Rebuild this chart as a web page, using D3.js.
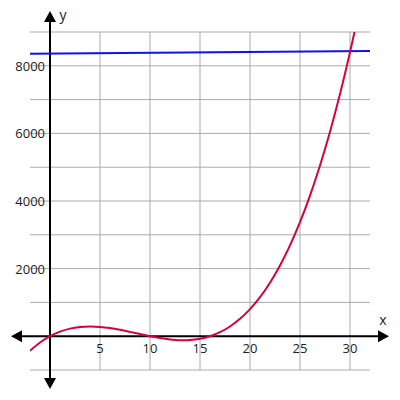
<!DOCTYPE html>
<html>
<head>
<meta charset="utf-8">
<script src="https://cdn.jsdelivr.net/npm/d3@7"></script>
<style>
  body { margin: 0; background: #fff; }
  text { font-family: "Open Sans", sans-serif; font-size: 13px; fill: #222; }
</style>
</head>
<body>
<script>
// curve samples
var curveX = [-2, -1, 0, 1, 2, 3, 4, 5, 6, 7, 8, 9, 10, 11, 12, 13, 14, 15, 16,
              17, 18, 19, 20, 21, 22, 23, 24, 25, 26, 27, 28, 29, 30, 31];
var curveY = [-432, -187, 0, 135, 224, 273, 288, 275, 240, 189, 128, 63, 0, -55, -96, -117, -112, -75, 0,
              119, 288, 513, 800, 1155, 1584, 2093, 2688, 3375, 4160, 5049, 6048, 7163, 8400, 9765];
var lineX = [-2, 32];
var lineY = [8360, 8440];
var xTicks = [5, 10, 15, 20, 25, 30];
var yTicks = [2000, 4000, 6000, 8000];
var xGrid = [5, 10, 15, 20, 25, 30];
var yGrid = [-1000, 1000, 2000, 3000, 4000, 5000, 6000, 7000, 8000, 9000];

var width = 400, height = 400;

var x = d3.scaleLinear().domain([-2, 32]).range([30, 370]);
var y = d3.scaleLinear().domain([-1000, 9000]).range([370, 32]);

var svg = d3.select("body").append("svg")
    .attr("width", width)
    .attr("height", height);

svg.append("defs").append("clipPath")
    .attr("id", "plot")
  .append("rect")
    .attr("x", x(-2)).attr("y", y(9000))
    .attr("width", x(32) - x(-2)).attr("height", y(-1000) - y(9000));

// grid
svg.selectAll(".vgrid").data(xGrid).enter().append("line")
    .attr("x1", d => x(d)).attr("x2", d => x(d))
    .attr("y1", y(9000)).attr("y2", y(-1000))
    .style("stroke", "#aaa").style("stroke-width", 1);
svg.selectAll(".hgrid").data(yGrid).enter().append("line")
    .attr("x1", x(-2)).attr("x2", x(32))
    .attr("y1", d => y(d)).attr("y2", d => y(d))
    .style("stroke", "#aaa").style("stroke-width", 1);

// tick labels
svg.selectAll(".xl").data(xTicks).enter().append("text")
    .attr("x", d => x(d)).attr("y", y(0) + 17)
    .attr("text-anchor", "middle")
    .text(d => d);
svg.selectAll(".yl").data(yTicks).enter().append("text")
    .attr("x", x(0) - 5).attr("y", d => y(d) + 5)
    .attr("text-anchor", "end")
    .text(d => d);

// axes with arrows
var ax = svg.append("g");
ax.append("line")
    .attr("x1", 16).attr("x2", 384)
    .attr("y1", y(0)).attr("y2", y(0))
    .style("stroke", "#000").style("stroke-width", 2);
ax.append("line")
    .attr("x1", x(0)).attr("x2", x(0))
    .attr("y1", 16).attr("y2", 384)
    .style("stroke", "#000").style("stroke-width", 2);
var y0 = y(0), x0 = x(0);
ax.append("path").attr("d", "M11," + y0 + "L22," + (y0 - 6) + "L22," + (y0 + 6) + "Z");
ax.append("path").attr("d", "M389," + y0 + "L378," + (y0 - 6) + "L378," + (y0 + 6) + "Z");
ax.append("path").attr("d", "M" + x0 + ",11L" + (x0 - 6) + ",22L" + (x0 + 6) + ",22Z");
ax.append("path").attr("d", "M" + x0 + ",389L" + (x0 - 6) + ",378L" + (x0 + 6) + ",378Z");

svg.append("text").attr("x", 383).attr("y", 325).attr("text-anchor", "middle").style("font-size", "14px").text("x");
svg.append("text").attr("x", 63).attr("y", 20).attr("text-anchor", "middle").style("font-size", "14px").text("y");

// series
var plot = svg.append("g").attr("clip-path", "url(#plot)");

var blue = d3.line().x(d => x(d[0])).y(d => y(d[1]));
plot.append("path")
    .datum(d3.zip(lineX, lineY))
    .attr("d", blue)
    .style("fill", "none").style("stroke", "#1010f0").style("stroke-width", 2);

var red = d3.line().x(d => x(d[0])).y(d => y(d[1])).curve(d3.curveCatmullRom);
plot.append("path")
    .datum(d3.zip(curveX, curveY))
    .attr("d", red)
    .style("fill", "none").style("stroke", "#d8003f").style("stroke-width", 2);
</script>
</body>
</html>
